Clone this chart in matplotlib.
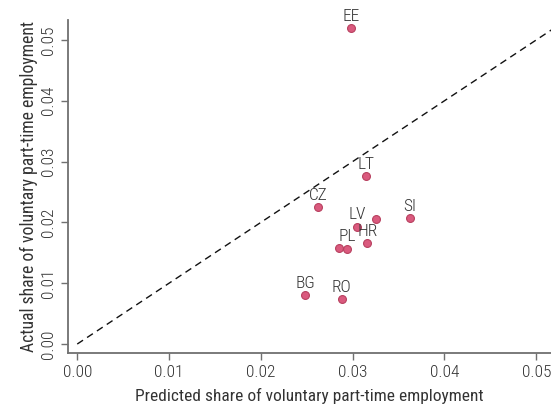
import matplotlib
matplotlib.use("Agg")
import matplotlib.pyplot as plt

# predicted vs actual share of voluntary part-time employment
countries = ["EE", "LT", "CZ", "LV", None, "SI", "HR", None, "PL", "BG", "RO"]
predicted = [0.0298, 0.0314, 0.0262, 0.0305, 0.0325, 0.0362, 0.0316, 0.0285, 0.0294, 0.0248, 0.0288]
actual = [0.0519, 0.0276, 0.0225, 0.0193, 0.0206, 0.0207, 0.0166, 0.0158, 0.0157, 0.0080, 0.0074]

plt.rcParams["font.family"] = ["Roboto Condensed", "Roboto", "DejaVu Sans"]
plt.rcParams["font.weight"] = "light"
text_col = "#333333"
axis_col = "#707070"

fig = plt.figure(figsize=(5.51, 4.05), dpi=100)
ax = fig.add_axes([0.123, 0.128, 0.877, 0.823])

ax.plot([0, 0.06], [0, 0.06], ls=(0, (5, 3.5)), color="#111111", lw=1.0, zorder=1)
ax.scatter(predicted, actual, s=32, color="#da5a7e", edgecolor="#b8405f",
           linewidth=0.8, zorder=3)
for name, x, y in zip(countries, predicted, actual):
    if name:
        ax.annotate(name, (x, y), xytext=(0, 3), textcoords="offset points",
                    ha="center", va="bottom", fontsize=12.5, color=text_col)

ax.set_xlim(-0.00103, 0.0516)
ax.set_ylim(-0.0015, 0.0533)
ticks = [0.0, 0.01, 0.02, 0.03, 0.04, 0.05]
ax.set_xticks(ticks)
ax.set_yticks(ticks)
ax.set_xticklabels([f"{t:.2f}" for t in ticks])
ax.set_yticklabels([f"{t:.2f}" for t in ticks], rotation=90, va="center")

for side in ["top", "right"]:
    ax.spines[side].set_visible(False)
for side in ["left", "bottom"]:
    ax.spines[side].set_color(axis_col)
    ax.spines[side].set_linewidth(1.3)
ax.tick_params(color=axis_col, labelcolor=text_col, labelsize=12.5, length=5, width=1)

ax.set_xlabel("Predicted share of voluntary part-time employment", fontsize=12.5,
              color=text_col, labelpad=6)
ax.set_ylabel("Actual share of voluntary part-time employment", fontsize=12.7,
              color=text_col, labelpad=2)

fig.savefig("out.png", dpi=100)
